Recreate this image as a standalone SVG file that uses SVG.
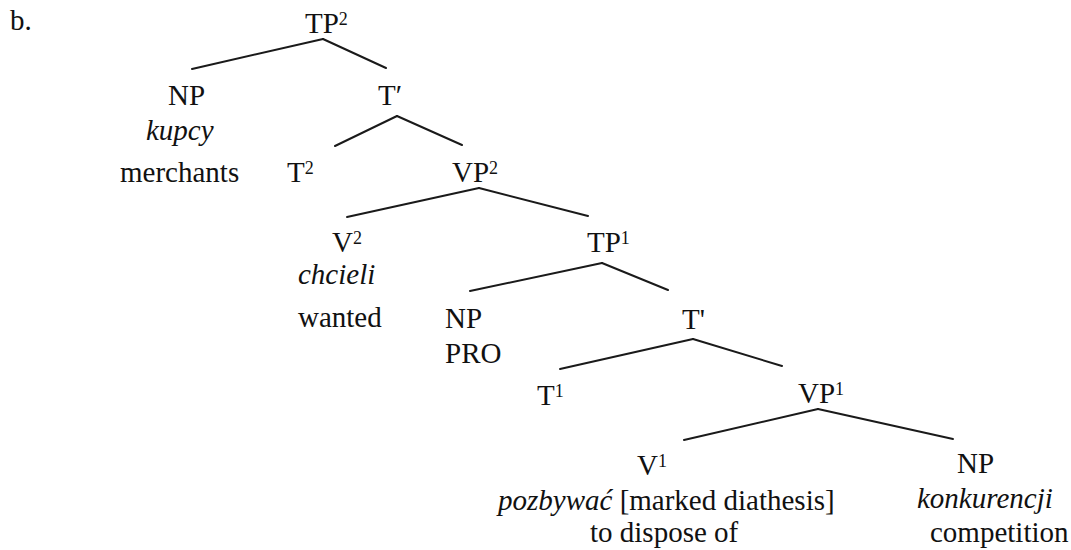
<svg xmlns="http://www.w3.org/2000/svg" width="1071" height="550" viewBox="0 0 1071 550">
<style>
text{font-size:29px;fill:#111}
.i{font-style:italic}
.s{font-size:18px}
#edges line{stroke:#1a1a1a;stroke-width:2;stroke-linecap:round}
</style>
<rect width="1071" height="550" fill="#fff"/>
<g font-family="Liberation Serif, Tinos, DejaVu Serif, serif">
<text x="10" y="30">b.</text>
<g id="edges">
<line x1="323" y1="39" x2="192" y2="69"/>
<line x1="323" y1="39" x2="386" y2="68"/>
<line x1="397" y1="116" x2="335" y2="146"/>
<line x1="397" y1="116" x2="462" y2="145"/>
<line x1="479" y1="188" x2="347" y2="217"/>
<line x1="479" y1="188" x2="588" y2="216"/>
<line x1="602" y1="263" x2="470" y2="291"/>
<line x1="602" y1="263" x2="668" y2="290"/>
<line x1="693" y1="339" x2="560" y2="369"/>
<line x1="693" y1="339" x2="782" y2="366"/>
<line x1="818" y1="409" x2="684" y2="440"/>
<line x1="818" y1="409" x2="953" y2="439"/>
</g>
<g id="TP2"><text x="305" y="33">TP<tspan class="s" dy="-8">2</tspan></text></g>
<g id="NP_kupcy"><text x="168" y="105">NP</text><text class="i" x="146" y="140">kupcy</text><text x="120" y="182">merchants</text></g>
<g id="Tbar2"><text x="378" y="105">T′</text></g>
<g id="T2"><text x="287" y="182">T<tspan class="s" dy="-8">2</tspan></text></g>
<g id="VP2"><text x="452" y="182">VP<tspan class="s" dy="-8">2</tspan></text></g>
<g id="V2"><text x="332" y="252">V<tspan class="s" dy="-8">2</tspan></text><text class="i" x="298" y="284">chcieli</text><text x="298" y="327">wanted</text></g>
<g id="TP1"><text x="587" y="252">TP<tspan class="s" dy="-8">1</tspan></text></g>
<g id="NP_PRO"><text x="445" y="328">NP</text><text x="445" y="363">PRO</text></g>
<g id="Tbar1"><text x="682" y="329">T'</text></g>
<g id="T1"><text x="537" y="405">T<tspan class="s" dy="-8">1</tspan></text></g>
<g id="VP1"><text x="798" y="403">VP<tspan class="s" dy="-8">1</tspan></text></g>
<g id="V1"><text x="637" y="475">V<tspan class="s" dy="-8">1</tspan></text><text x="498" y="510"><tspan class="i">pozbywać</tspan> [marked diathesis]</text><text x="590" y="542">to dispose of</text></g>
<g id="NP_konkurencji"><text x="957" y="473">NP</text><text class="i" x="917" y="508">konkurencji</text><text x="930" y="542">competition</text></g>
</g>
</svg>
